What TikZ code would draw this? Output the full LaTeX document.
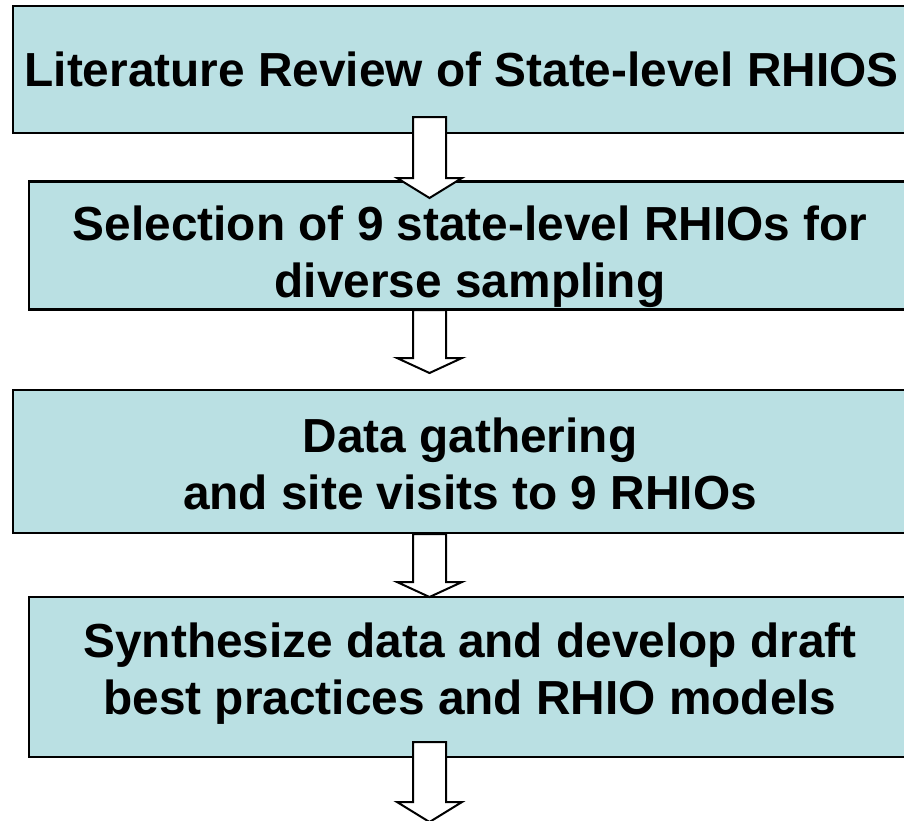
\documentclass[tikz,border=0pt]{standalone}
\usepackage{fontspec}
\setmainfont{Liberation Sans}
\usepackage{tikz}
\usetikzlibrary{calc}

\definecolor{boxblue}{RGB}{186,224,227}

\begin{document}
\begin{tikzpicture}[x=1pt, y=1pt]
  % Fix the page size
  \clip (0,0) rectangle (904,-820);

  % Set the node styles
  \tikzset{stagebox/.style={rectangle, draw=black, line width=2.4pt, fill=boxblue,
      inner sep=0pt},
    stagetext/.style={inner sep=0pt, align=center,
      font=\fontsize{47.8}{57}\selectfont\bfseries},
    blockarrow/.style={draw=black, line width=2pt, fill=white, line join=miter}}

  % Draw the stage boxes
  \node[stagebox, minimum width=896, minimum height=127] (lit) at (461,-69.5) {};
  \node[stagebox, minimum width=882, minimum height=128] (sel) at (470,-245.5) {};
  \node[stagebox, minimum width=914, minimum height=143] (data) at (470,-461.5) {};
  \node[stagebox, minimum width=882, minimum height=160] (synth) at (470,-677) {};

  % Put the texts in the boxes
  \node[stagetext] (littext) at ($(lit.center)+(0.5,0)$)
    {Literature Review of State-level RHIOS};
  \node[stagetext] (seltext) at ($(sel.center)+(0,-11)$)
    {Selection of 9 state-level RHIOs for\\diverse sampling};
  \node[stagetext] (datatext) at ($(data.center)+(0,-2)$)
    {Data gathering\\and site visits to 9 RHIOs};
  \node[stagetext] (synthtext) at ($(synth.center)+(0,3)$)
    {Synthesize data and develop draft\\best practices and RHIO models};

  % Draw the block arrows between the boxes
  \foreach \i/\ya/\yb/\hl in {1/117/198/20, 2/310/373/15, 3/534/597/15, 4/742/822/20}{
    \coordinate (tail\i) at (429.5,-\ya);
    \coordinate (tip\i) at (429.5,-\yb);
    \draw[blockarrow] ($(tail\i)+(-16.5,0)$) -- ($(tip\i)+(-16.5,\hl)$)
      -- ($(tip\i)+(-32.5,\hl)$) -- (tip\i) -- ($(tip\i)+(32.5,\hl)$)
      -- ($(tip\i)+(16.5,\hl)$) -- ($(tail\i)+(16.5,0)$) -- cycle;
  }
\end{tikzpicture}
\end{document}
